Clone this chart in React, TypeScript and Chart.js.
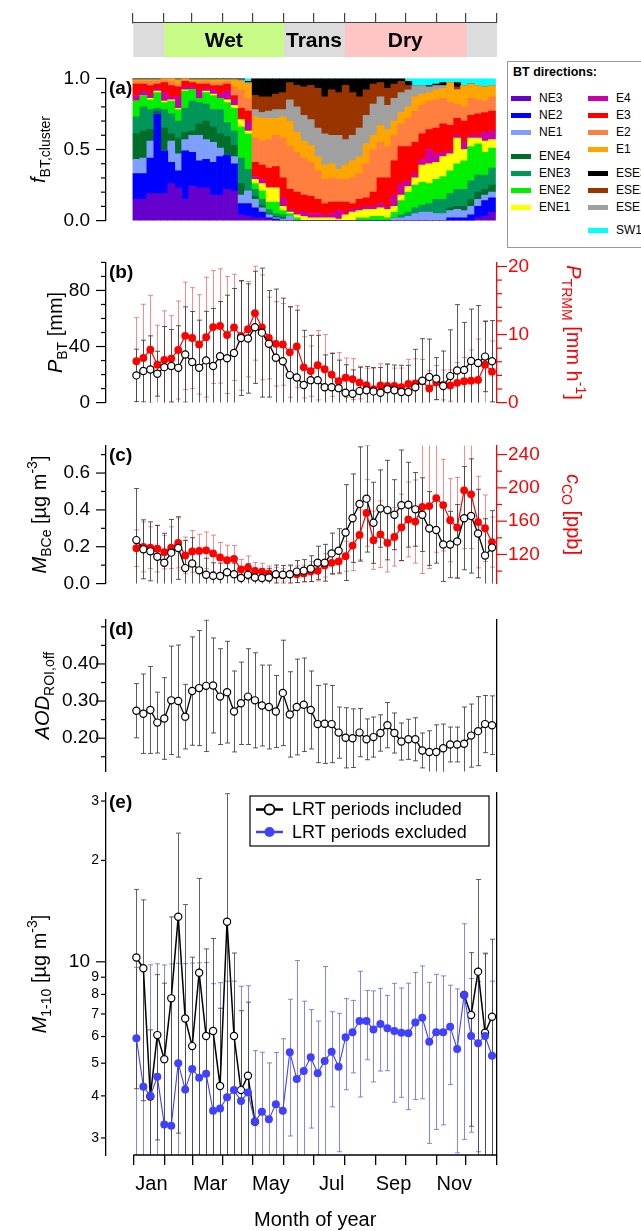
import { useEffect, useRef } from "react";
import Chart from "chart.js/auto";

const FONT = "'Liberation Sans', Arial, Helvetica, sans-serif";
Chart.defaults.font.family = FONT;
Chart.defaults.color = "#000";

// ---------- shared x axis (day of year) ----------
const weekDays = [
  3, 10, 17, 24, 31, 38, 45, 52, 59, 66, 73, 80, 87, 94, 101, 108, 115, 122, 129, 136,
  143, 150, 157, 164, 171, 178, 185, 192, 199, 206, 213, 220, 227, 234, 241, 248, 255,
  262, 269, 276, 283, 290, 297, 304, 311, 318, 325, 332, 339, 346, 353, 360,
];
const monthTicks = [0, 31, 59, 90, 120, 151, 181, 212, 243, 273, 304, 334, 365];
const monthLabels = ["Jan", "", "Mar", "", "May", "", "Jul", "", "Sep", "", "Nov", "", ""];

const seasonNames = ["", "Wet", "Trans", "Dry", ""];
const seasonStart = [0, 31, 151, 212, 334];
const seasonEnd = [31, 151, 212, 334, 365];
const seasonColors = ["#dcdcdc", "#c8fc86", "#dcdcdc", "#ffc4c4", "#dcdcdc"];

// ---------- (a) back-trajectory cluster fractions, bottom to top ----------
const fNE3 = [.15,.15,.19,.19,.19,.26,.23,.15,.24,.23,.23,.18,.18,.22,.21,.04,.03,.02,.02,.01,0,0,0,0,0,0,0,0,0,0,0,0,0,0,0,0,0,0,0,0,0,0,0,0,0,0,0,0,0,.02,.03,.06];
const fNE2 = [.18,.18,.25,.56,.30,.15,.12,.34,.24,.19,.20,.23,.27,.24,.19,.08,.09,.07,.04,.01,.01,0,0,0,0,0,0,0,0,0,0,0,0,0,0,0,0,0,0,0,0,0,0,0,0,.02,.02,.02,.04,.08,.11,.10];
const fNE1 = [.10,.11,.12,0,0,.15,.12,.08,.12,.18,.14,.14,.06,0,.05,.06,.09,.06,.03,.02,.01,.01,.03,0,0,0,0,0,0,0,0,0,0,0,0,0,0,.02,.02,.03,.05,.06,.06,.05,.05,.05,.06,.05,.06,.05,.04,.04];
const fENE4 = [.18,.19,.08,.02,.16,.05,.11,.05,.03,.08,.13,.11,.10,.13,.08,.08,0,.02,.02,.01,.01,.01,0,0,0,0,0,0,0,0,0,0,0,0,0,0,0,0,0,0,0,0,0,0,0,.02,.02,.03,.05,.05,.04,.05];
const fENE3 = [.12,.17,.14,.02,.13,.14,.12,.17,.21,.15,.12,.12,.17,.10,.10,.18,.15,.05,.04,.03,.02,.02,0,0,0,0,0,0,0,0,0,0,0,0,0,0,0,0,.02,.03,.04,.05,.06,.10,.10,.10,.12,.12,.13,.12,.10,.12];
const fENE2 = [.11,.08,.07,.11,.05,.09,.08,.12,.08,.03,.08,.10,.08,.14,.16,.22,.25,.04,.06,.05,.08,.03,.02,.02,0,0,0,0,0,0,0,0,.02,.02,.03,.03,.02,.04,.10,.14,.16,.16,.14,.14,.16,.16,.18,.20,.24,.22,.16,.14];
const fENE1 = [0,0,.01,.01,.01,.01,.01,.01,0,0,.01,.01,0,.02,.02,.05,.02,.03,.05,.10,.10,.03,.01,.02,.03,.02,.02,.02,.02,.01,.04,.06,.05,.06,.05,.06,.06,.04,.04,.04,.05,.12,.14,.12,.14,.12,.18,.08,.06,.04,.08,.06];
const fE4 = [.04,.03,.03,.02,.06,.02,.08,.02,.02,.05,.02,.03,.03,.06,.04,0,.07,.02,.03,.01,0,.06,.02,.02,.03,.03,.03,.02,.03,.06,.02,.02,.02,.02,.02,.03,.02,.08,.08,.04,.03,.04,.10,.06,.03,.02,.02,.06,.02,.02,.06,.06];
const fE3 = [.08,.05,.06,.03,.07,.08,.07,.04,.03,.05,.03,.03,.06,.05,.03,.08,.07,.10,.10,.13,.15,.14,.14,.14,.12,.12,.10,.08,.08,.06,.07,.04,.06,.06,.10,.18,.20,.24,.26,.24,.22,.18,.14,.18,.20,.18,.12,.14,.14,.15,.14,.14];
const fE2 = [.02,.02,.03,.02,.02,.03,.02,.01,.01,.01,.02,.02,.02,.02,.06,.13,.09,.17,.17,.20,.22,.28,.30,.28,.26,.24,.20,.17,.17,.16,.16,.18,.18,.24,.30,.25,.22,.18,.16,.20,.22,.20,.20,.20,.18,.16,.10,.10,.12,.10,.08,.10];
const fE1 = [.01,.01,.01,.01,.01,.02,.03,.01,.01,.02,.01,.02,.02,.01,.05,.06,.10,.15,.16,.15,.12,.15,.18,.14,.12,.12,.10,.10,.10,.07,.10,.12,.12,.14,.10,.12,.12,.10,.08,.08,.10,.08,.06,.07,.07,.14,.10,.15,.10,.10,.10,.08];
const fESE1 = [0,0,0,0,0,0,0,0,0,0,0,0,0,0,0,.01,.01,.05,.04,.05,.06,.05,.15,.18,.18,.18,.20,.22,.20,.24,.18,.18,.20,.20,.22,.20,.17,.16,.14,.12,.08,.06,.04,.03,.02,0,0,0,0,0,0,0];
const fESE2 = [0,0,0,0,0,0,0,0,0,0,0,0,0,0,0,0,0,.10,.11,.10,.11,.12,.12,.15,.20,.24,.28,.26,.32,.30,.38,.30,.22,.18,.14,.10,.12,.10,.08,.03,0,0,0,0,0,0,.02,0,0,0,0,0];
const fESE3 = [.01,.01,.01,.01,0,0,.01,0,.01,.01,.01,.01,.01,.01,.01,.01,.01,.12,.13,.13,.11,.10,.03,.05,.06,.05,.07,.13,.08,.10,.05,.10,.13,.08,.04,.03,.07,.04,.02,.03,0,0,.01,.01,.02,0,.03,0,0,0,0,0];
const fSW1 = [0,0,0,0,0,0,0,0,0,0,0,0,0,0,0,0,.02,0,0,0,0,0,0,0,0,0,0,0,0,0,0,0,0,0,0,0,0,0,0,.02,.05,.05,.05,.04,.03,.03,.03,.05,.04,.05,.06,.05];

const clusterNames = ["NE3", "NE2", "NE1", "ENE4", "ENE3", "ENE2", "ENE1", "E4", "E3", "E2", "E1", "ESE1", "ESE2", "ESE3", "SW1"];
const clusterColors = ["#6600cc", "#0000ff", "#7f9fff", "#006e28", "#00965a", "#00f000", "#ffff00", "#cc00aa", "#ff0000", "#ff7f40", "#ffa500", "#a0a0a0", "#993300", "#000000", "#00ffff"];
const clusterFractions = [fNE3, fNE2, fNE1, fENE4, fENE3, fENE2, fENE1, fE4, fE3, fE2, fE1, fESE1, fESE2, fESE3, fSW1];

// ---------- (b) precipitation ----------
const pBT = [19.4,22.5,23.6,20.6,25.3,26.1,24.8,34.3,29.0,24.8,30.1,26.1,33.1,31.6,35.4,46.1,45.7,53.7,49.9,41.9,32.0,29.5,19.6,17.9,12.6,16.0,16.0,11.0,11.0,10.3,7.0,6.3,8.2,8.8,8.0,7.0,9.5,8.8,7.6,7.6,11.0,15.6,18.3,17.1,11.8,18.9,22.9,23.2,29.7,28.2,32.8,29.5];
const pBTsd = [18.7,22,24,16,29,26,30,34,36,34,35,41,39,45,46,41,39,40,46,38,49,45,49,48,39,32,32,23,24,20,20,17,17,17,17,18,18,18,19,19,27,30,27,15,25,33,47,34,37,41,25,29];
const pTRMM = [6.08,6.55,7.77,5.57,6.28,6.47,7.73,9.81,9.49,8.55,9.61,11.1,11.26,9.93,11.06,9.81,10.79,13.14,11.06,9.49,8.63,8.55,7.38,8.24,5.18,4.63,5.49,4.9,4.12,3.14,3.65,3.46,2.94,2.55,1.96,2.51,2.47,2.47,2.28,2.75,2.83,3.14,2.08,2.94,2.59,2.51,2.9,3.14,3.22,3.33,5.57,4.55];
const pTRMMsd = [6.4,7.9,8.0,5.8,7.2,6.3,7.2,7.9,7.4,7.3,8.8,8.3,8.4,8.6,7.8,8.0,7.0,6.9,7.7,6.0,6.2,6.0,6.6,6.0,4.5,3.7,5.1,5.1,3.2,4.2,2.9,3.0,2.4,2.5,3.1,3.2,3.2,2.6,2.8,3.6,3.6,3.2,2.6,2.5,2.2,2.3,3.0,3.5,4.5,6.0,6.5,4.5];

// ---------- (c) black carbon and CO ----------
const mBCe = [.236,.186,.175,.146,.113,.168,.193,.084,.109,.072,.048,.043,.041,.062,.051,.030,.048,.033,.030,.033,.051,.048,.051,.065,.070,.081,.113,.113,.164,.178,.277,.355,.432,.461,.330,.407,.399,.374,.425,.428,.403,.374,.299,.291,.212,.212,.229,.355,.367,.272,.152,.196];
const mBCesd = [.28,.16,.16,.17,.16,.18,.17,.15,.14,.11,.09,.07,.07,.07,.06,.05,.06,.05,.05,.05,.05,.05,.05,.06,.06,.07,.09,.10,.11,.12,.26,.24,.31,.29,.22,.21,.27,.19,.30,.23,.20,.20,.20,.18,.20,.18,.20,.28,.31,.24,.20,.20];
const cCO = [127.5,129.1,128.2,126.9,122.7,128.2,133.9,118.9,123.7,124.3,125.0,121.2,116.4,113.1,114.7,102.0,104.2,100.4,99.4,97.2,95.6,94.9,96.2,96.2,97.2,99.4,100.4,106.8,110.0,111.6,117.9,130.7,143.5,169.8,137.1,144.2,133.9,141.0,152.5,162.1,159.5,177.1,178.1,187.7,179.3,161.1,152.5,197.0,192.2,158.9,151.5,134.9];
const cCOsd = [22,30,25,28,20,25,30,22,25,20,22,22,18,18,16,12,14,10,10,9,9,8,10,10,10,12,12,14,14,15,18,30,30,40,35,40,35,35,40,45,50,80,75,65,55,50,60,70,65,55,40,30];

// ---------- (d) aerosol optical depth ----------
const aod = [.274,.266,.276,.242,.253,.302,.300,.258,.327,.335,.341,.342,.312,.324,.272,.294,.312,.302,.288,.284,.272,.322,.264,.284,.290,.276,.238,.239,.238,.215,.201,.200,.215,.197,.203,.214,.235,.214,.191,.197,.197,.167,.163,.163,.173,.183,.183,.185,.207,.219,.238,.235];
const aodsd = [.073,.107,.117,.082,.110,.146,.151,.087,.146,.155,.177,.128,.129,.137,.109,.111,.129,.128,.109,.113,.097,.142,.115,.129,.126,.105,.104,.107,.104,.069,.081,.079,.065,.055,.054,.049,.061,.054,.050,.054,.058,.047,.057,.073,.065,.047,.047,.099,.085,.093,.077,.079];

// ---------- (e) coarse mass ----------
const m110excl = [5.93,4.26,4.0,4.56,3.29,3.26,5.0,4.18,4.81,4.53,4.65,3.61,3.67,3.96,4.16,3.86,4.09,3.35,3.59,3.41,3.78,3.61,5.39,4.49,4.74,5.21,4.67,5.08,5.41,4.88,5.97,6.18,6.67,6.67,6.30,6.54,6.35,6.23,6.16,6.14,6.60,6.82,5.79,6.18,6.18,6.42,5.51,7.97,6.02,5.73,6.02,5.26];
const m110exclSd = [3.7,5.5,5.8,5.3,6.5,6.6,4.9,5.7,5.1,5.4,5.3,5.0,5.0,4.8,4.6,4.6,4.4,2.1,1.8,1.6,1.6,2.3,2.35,5.6,2.9,2.0,2.0,4.6,1.7,2.15,1.8,1.5,2.7,1.55,1.9,1.8,1.6,2.4,2.2,2.5,2.7,2.9,2.9,3.0,2.9,2.1,2.8,5.0,2.9,3.0,4.6,3.5];
const m110incl = [10.3,9.57,3.98,6.06,5.14,7.79,13.6,6.79,5.62,9.28,6.02,6.23,4.28,13.15,6.02,4.16,4.59,3.35,null,null,null,null,null,null,null,null,null,null,null,null,null,null,null,null,null,null,null,null,null,null,null,null,null,null,null,null,null,7.97,6.95,9.35,6.16,6.87];
const m110inclSd = [6.1,5.7,2.3,3.1,3.5,5.8,10.5,8.0,4.7,8.4,4.9,5.5,3.0,18.4,4.6,3.0,3.0,null,null,null,null,null,null,null,null,null,null,null,null,null,null,null,null,null,null,null,null,null,null,null,null,null,null,null,null,null,null,null,3.7,8.2,4.4,4.8];

// ---------- axis ticks ----------
const aMajor = [0, 0.5, 1];
const aMinor = [0.1, 0.2, 0.3, 0.4, 0.6, 0.7, 0.8, 0.9];
const bMajor = [0, 40, 80];
const bMinor = [10, 20, 30, 50, 60, 70, 90, 100];
const bRightMajor = [0, 10, 20];
const bRightMinor = [2, 4, 6, 8, 12, 14, 16, 18];
const cMajor = [0, 0.2, 0.4, 0.6];
const cMinor = [0.1, 0.3, 0.5, 0.7];
const cRightMajor = [120, 160, 200, 240];
const cRightMinor = [100, 140, 180, 220];
const dMajor = [0.2, 0.3, 0.4];
const dMinor = [0.15, 0.25, 0.35, 0.45, 0.5];
const eMajor = [10];
const eMinor = [3, 4, 5, 6, 7, 8, 9, 20, 30];
const eLabelValues = [3, 4, 5, 6, 7, 8, 9, 10, 20, 30];
const eLabelTexts = ["3", "4", "5", "6", "7", "8", "9", "10", "2", "3"];

// ---------- drawing helpers ----------
type Seg = { t: string; s?: "sub" | "sup"; i?: boolean };

function drawRich(ctx: CanvasRenderingContext2D, segs: Seg[], x: number, y: number, rot: number, color: string) {
  const font = (g: Seg) => `${g.i ? "italic " : ""}${g.s ? 14 : 20}px ${FONT}`;
  ctx.save();
  ctx.translate(x, y);
  ctx.rotate(rot);
  ctx.fillStyle = color;
  ctx.textAlign = "left";
  ctx.textBaseline = "alphabetic";
  let w = 0;
  segs.forEach((g) => {
    ctx.font = font(g);
    w += ctx.measureText(g.t).width;
  });
  let cx = -w / 2;
  segs.forEach((g) => {
    ctx.font = font(g);
    const dy = g.s === "sub" ? 5 : g.s === "sup" ? -9 : 0;
    ctx.fillText(g.t, cx, dy);
    cx += ctx.measureText(g.t).width;
  });
  ctx.restore();
}

const axisTitles = (specs: { segs: Seg[]; x: number; rot: number; color: string }[]) => ({
  id: "axisTitles",
  afterDraw(chart: any) {
    const a = chart.chartArea;
    const cy = (a.top + a.bottom) / 2;
    specs.forEach((s) => drawRich(chart.ctx, s.segs, s.x, cy, s.rot, s.color));
  },
});

const panelTag = (text: string) => ({
  id: "panelTag",
  afterDraw(chart: any) {
    const { ctx, chartArea: a } = chart;
    ctx.save();
    ctx.font = `bold 19px ${FONT}`;
    ctx.fillStyle = "#000";
    ctx.textAlign = "left";
    ctx.textBaseline = "middle";
    ctx.fillText(text, 109, a.top + 10);
    ctx.restore();
  },
});

type TickSpec = {
  id: string;
  side: "left" | "right";
  major: number[];
  minor: number[];
  color: string;
  labels?: { v: number; text: string; size: number; gap: number }[];
};

const tickMarks = (specs: TickSpec[]) => ({
  id: "tickMarks",
  afterDraw(chart: any) {
    const { ctx, chartArea: a } = chart;
    specs.forEach((s) => {
      const sc = chart.scales[s.id];
      const x0 = s.side === "left" ? a.left : a.right;
      const dir = s.side === "left" ? -1 : 1;
      ctx.save();
      ctx.strokeStyle = s.color;
      ctx.fillStyle = s.color;
      ctx.lineWidth = 1.2;
      const mark = (v: number, len: number) => {
        if (v < sc.min - 1e-9 || v > sc.max + 1e-9) return;
        const y = sc.getPixelForValue(v);
        ctx.beginPath();
        ctx.moveTo(x0, y);
        ctx.lineTo(x0 + dir * len, y);
        ctx.stroke();
      };
      s.major.forEach((v) => mark(v, 10));
      s.minor.forEach((v) => mark(v, 5));
      (s.labels || []).forEach((l) => {
        ctx.font = `${l.size}px ${FONT}`;
        ctx.textAlign = "right";
        ctx.textBaseline = "middle";
        ctx.fillText(l.text, x0 - l.gap, sc.getPixelForValue(l.v));
      });
      ctx.restore();
    });
  },
});

type ErrSpec = { ds: number; values: (number | null)[]; err: (number | null)[]; color: string };

const errorBars = (specs: ErrSpec[]) => ({
  id: "errorBars",
  beforeDatasetsDraw(chart: any) {
    const { ctx, chartArea: a } = chart;
    ctx.save();
    ctx.beginPath();
    ctx.rect(a.left, a.top, a.right - a.left, a.bottom - a.top);
    ctx.clip();
    specs.forEach((s) => {
      const meta = chart.getDatasetMeta(s.ds);
      const ys = chart.scales[meta.yAxisID];
      ctx.strokeStyle = s.color;
      ctx.lineWidth = 1;
      meta.data.forEach((pt: any, i: number) => {
        const v = s.values[i];
        const e = s.err[i];
        if (v == null || e == null) return;
        const x = Math.round(pt.x) + 0.5;
        const yHi = ys.getPixelForValue(v + e);
        const lo = v - e;
        const yLo = lo > 0 || ys.type !== "logarithmic" ? ys.getPixelForValue(lo) : a.bottom + 20;
        ctx.beginPath();
        ctx.moveTo(x, yHi);
        ctx.lineTo(x, yLo);
        ctx.moveTo(x - 2.5, yHi);
        ctx.lineTo(x + 2.5, yHi);
        ctx.moveTo(x - 2.5, yLo);
        ctx.lineTo(x + 2.5, yLo);
        ctx.stroke();
      });
    });
    ctx.restore();
  },
});

const seasonText = {
  id: "seasonText",
  afterDatasetsDraw(chart: any) {
    const { ctx } = chart;
    ctx.save();
    ctx.font = `bold 21px ${FONT}`;
    ctx.fillStyle = "#000";
    ctx.textAlign = "center";
    ctx.textBaseline = "middle";
    chart.data.datasets.forEach((ds: any, i: number) => {
      if (!ds.label) return;
      const el = chart.getDatasetMeta(i).data[0];
      ctx.fillText(ds.label, (el.x + el.base) / 2, el.y + 1);
    });
    ctx.restore();
  },
};

const monthAxis = {
  id: "monthAxis",
  afterDraw(chart: any) {
    const { ctx, chartArea: a, scales } = chart;
    const x0 = scales.x.getPixelForValue(0);
    const x1 = scales.x.getPixelForValue(365);
    ctx.save();
    ctx.strokeStyle = "#000";
    ctx.lineWidth = 1.5;
    ctx.beginPath();
    ctx.moveTo(x0, a.bottom);
    ctx.lineTo(x1, a.bottom);
    ctx.stroke();
    ctx.font = `20px ${FONT}`;
    ctx.fillStyle = "#000";
    ctx.textAlign = "center";
    ctx.textBaseline = "middle";
    ctx.fillText("Month of year", (x0 + x1) / 2, a.bottom + 65);
    ctx.restore();
  },
};

const massLegend = {
  id: "massLegend",
  afterDraw(chart: any) {
    const { ctx, chartArea: a } = chart;
    const x0 = a.left + 144;
    const y0 = a.top + 3;
    ctx.save();
    ctx.fillStyle = "#fff";
    ctx.fillRect(x0, y0, 239, 50);
    ctx.strokeStyle = "#000";
    ctx.lineWidth = 1.2;
    ctx.strokeRect(x0, y0, 239, 50);
    const rows = [
      { ds: chart.data.datasets[1], y: y0 + 13.5, fill: "#fff" },
      { ds: chart.data.datasets[0], y: y0 + 36, fill: "#4040ff" },
    ];
    rows.forEach((r) => {
      ctx.strokeStyle = r.ds.borderColor;
      ctx.lineWidth = 2.5;
      ctx.beginPath();
      ctx.moveTo(x0 + 6, r.y);
      ctx.lineTo(x0 + 33, r.y);
      ctx.stroke();
      ctx.beginPath();
      ctx.arc(x0 + 19.5, r.y, 5, 0, Math.PI * 2);
      ctx.fillStyle = r.fill;
      ctx.fill();
      if (r.fill === "#fff") {
        ctx.lineWidth = 1.8;
        ctx.stroke();
      }
      ctx.fillStyle = "#000";
      ctx.font = `18px ${FONT}`;
      ctx.textAlign = "left";
      ctx.textBaseline = "middle";
      ctx.fillText(r.ds.label, x0 + 42, r.y + 1);
    });
    ctx.restore();
  },
};

// ---------- config builders ----------
const base = (padding: any) => ({
  animation: false,
  responsive: true,
  maintainAspectRatio: false,
  events: [],
  layout: { padding },
  plugins: { legend: { display: false }, tooltip: { enabled: false } },
});

const hiddenX = { type: "linear", min: -27.5, max: 365, offset: false, display: false };

const leftAxis = (min: number, max: number, major: number[], fmt: (v: number) => string, pad = 16) => ({
  position: "left",
  min,
  max,
  afterFit: (s: any) => {
    s.width = 106;
  },
  afterBuildTicks: (s: any) => {
    s.ticks = major.map((v) => ({ value: v }));
  },
  ticks: { callback: (v: number) => fmt(v), font: { size: 19 }, color: "#000", padding: pad, autoSkip: false },
  grid: { display: false, drawTicks: false },
  border: { display: true, color: "#000", width: 1.3 },
});

const rightAxis = (min: number, max: number, major: number[], color: string) => ({
  position: "right",
  min,
  max,
  afterFit: (s: any) => {
    s.width = 144;
  },
  afterBuildTicks: (s: any) => {
    s.ticks = major.map((v) => ({ value: v }));
  },
  ticks: { callback: (v: number) => String(v), font: { size: 19 }, color, padding: 11, autoSkip: false },
  grid: { display: false, drawTicks: false },
  border: { display: true, color, width: 1.3 },
});

const rightFrame = {
  position: "right",
  min: 0,
  max: 1,
  afterFit: (s: any) => {
    s.width = 144;
  },
  ticks: { display: false },
  grid: { display: false, drawTicks: false },
  border: { display: true, color: "#000", width: 1.3 },
};

const points = (vals: (number | null)[]) => weekDays.map((d, i) => ({ x: d, y: vals[i] }));

const openBlack = (label: string, vals: (number | null)[], yAxisID: string) => ({
  label,
  data: points(vals),
  yAxisID,
  borderColor: "#000",
  borderWidth: 1.3,
  pointRadius: 3.6,
  pointBackgroundColor: "#fff",
  pointBorderColor: "#000",
  pointBorderWidth: 1.2,
  tension: 0,
});

const filled = (label: string, vals: number[], yAxisID: string, color: string) => ({
  label,
  data: points(vals),
  yAxisID,
  borderColor: color,
  borderWidth: 1.2,
  pointRadius: 3.9,
  pointBackgroundColor: color,
  pointBorderColor: color,
  pointBorderWidth: 0,
  tension: 0,
});

const stripConfig = () => ({
  type: "bar",
  data: {
    labels: ["season"],
    datasets: seasonNames.map((n, i) => ({
      label: n,
      data: [[seasonStart[i], seasonEnd[i]]],
      backgroundColor: seasonColors[i],
      borderWidth: 0,
      barPercentage: 1,
      categoryPercentage: 1,
      grouped: false,
    })),
  },
  options: {
    ...base({ left: 133, right: 144, top: 0, bottom: 3 }),
    indexAxis: "y",
    scales: {
      x: {
        type: "linear",
        position: "top",
        min: 0,
        max: 365,
        afterBuildTicks: (s: any) => {
          s.ticks = monthTicks.map((v) => ({ value: v }));
        },
        afterFit: (s: any) => {
          s.height = 23;
        },
        ticks: { callback: () => "", autoSkip: false },
        grid: { drawOnChartArea: false, drawTicks: true, tickLength: 10, color: "#444", lineWidth: 1.2 },
        border: { display: true, color: "#444", width: 1.5 },
      },
      y: { display: false },
    },
  },
  plugins: [seasonText],
});

const clusterConfig = () => ({
  type: "bar",
  data: {
    datasets: clusterNames.map((n, k) => ({
      label: n,
      data: points(clusterFractions[k]),
      backgroundColor: clusterColors[k],
      borderWidth: 0,
      barPercentage: 1,
      categoryPercentage: 1,
    })),
  },
  options: {
    ...base({ top: 10, bottom: 10, right: 144 }),
    scales: {
      x: { ...hiddenX, stacked: true, grid: { offset: false } },
      y: { ...leftAxis(0, 1, aMajor, (v) => v.toFixed(1)), stacked: true },
    },
  },
  plugins: [
    tickMarks([{ id: "y", side: "left", major: aMajor, minor: aMinor, color: "#000" }]),
    axisTitles([{ segs: [{ t: "f", i: true }, { t: "BT,cluster", s: "sub" }], x: 45, rot: -Math.PI / 2, color: "#000" }]),
    panelTag("(a)"),
  ],
});

const precipConfig = () => ({
  type: "line",
  data: {
    datasets: [openBlack("P_BT", pBT, "y"), filled("P_TRMM", pTRMM, "y2", "#ff0000")],
  },
  options: {
    ...base({ top: 10, bottom: 10 }),
    scales: {
      x: hiddenX,
      y: leftAxis(0, 100, bMajor, (v) => String(v)),
      y2: rightAxis(0, 20.6, bRightMajor, "#ff0000"),
    },
  },
  plugins: [
    errorBars([
      { ds: 1, values: pTRMM, err: pTRMMsd, color: "rgba(255,40,40,0.55)" },
      { ds: 0, values: pBT, err: pBTsd, color: "rgba(50,50,50,0.8)" },
    ]),
    tickMarks([
      { id: "y", side: "left", major: bMajor, minor: bMinor, color: "#000" },
      { id: "y2", side: "right", major: bRightMajor, minor: bRightMinor, color: "#ff0000" },
    ]),
    axisTitles([
      { segs: [{ t: "P", i: true }, { t: "BT", s: "sub" }, { t: " [mm]" }], x: 62, rot: -Math.PI / 2, color: "#000" },
      {
        segs: [{ t: "P", i: true }, { t: "TRMM", s: "sub" }, { t: " [mm h" }, { t: "-1", s: "sup" }, { t: "]" }],
        x: 567,
        rot: Math.PI / 2,
        color: "#ff0000",
      },
    ]),
    panelTag("(b)"),
  ],
});

const bcConfig = () => ({
  type: "line",
  data: {
    datasets: [openBlack("M_BCe", mBCe, "y"), filled("c_CO", cCO, "y2", "#ff0000")],
  },
  options: {
    ...base({ top: 10, bottom: 10 }),
    scales: {
      x: hiddenX,
      y: leftAxis(0, 0.75, cMajor, (v) => v.toFixed(1)),
      y2: rightAxis(85, 251, cRightMajor, "#ff0000"),
    },
  },
  plugins: [
    errorBars([
      { ds: 1, values: cCO, err: cCOsd, color: "rgba(255,40,40,0.55)" },
      { ds: 0, values: mBCe, err: mBCesd, color: "rgba(50,50,50,0.8)" },
    ]),
    tickMarks([
      { id: "y", side: "left", major: cMajor, minor: cMinor, color: "#000" },
      { id: "y2", side: "right", major: cRightMajor, minor: cRightMinor, color: "#ff0000" },
    ]),
    axisTitles([
      {
        segs: [{ t: "M", i: true }, { t: "BCe", s: "sub" }, { t: " [µg m" }, { t: "-3", s: "sup" }, { t: "]" }],
        x: 46,
        rot: -Math.PI / 2,
        color: "#000",
      },
      { segs: [{ t: "c", i: true }, { t: "CO", s: "sub" }, { t: " [ppb]" }], x: 567, rot: Math.PI / 2, color: "#ff0000" },
    ]),
    panelTag("(c)"),
  ],
});

const aodConfig = () => ({
  type: "line",
  data: { datasets: [openBlack("AOD", aod, "y")] },
  options: {
    ...base({ top: 10, bottom: 10 }),
    scales: {
      x: hiddenX,
      y: leftAxis(0.11, 0.52, dMajor, (v) => v.toFixed(2), 7),
      y2: rightFrame,
    },
  },
  plugins: [
    errorBars([{ ds: 0, values: aod, err: aodsd, color: "rgba(50,50,50,0.8)" }]),
    tickMarks([{ id: "y", side: "left", major: dMajor, minor: dMinor, color: "#000" }]),
    axisTitles([{ segs: [{ t: "AOD", i: true }, { t: "ROI,off", s: "sub" }], x: 49, rot: -Math.PI / 2, color: "#000" }]),
    panelTag("(d)"),
  ],
});

const massConfig = () => ({
  type: "line",
  data: {
    datasets: [
      { ...filled("LRT periods excluded", m110excl, "y", "#4040ff"), borderWidth: 1.1, pointRadius: 4 },
      { ...openBlack("LRT periods included", m110incl, "y"), borderWidth: 1.5 },
    ],
  },
  options: {
    ...base({ top: 10, bottom: 0 }),
    spanGaps: false,
    scales: {
      x: {
        type: "linear",
        position: "bottom",
        min: -27.5,
        max: 365,
        offset: false,
        afterBuildTicks: (s: any) => {
          s.ticks = monthTicks.map((v) => ({ value: v }));
        },
        afterFit: (s: any) => {
          s.height = 76;
        },
        ticks: {
          autoSkip: false,
          maxRotation: 0,
          minRotation: 0,
          callback: (v: number) => monthLabels[monthTicks.indexOf(v)] ?? "",
          font: { size: 20 },
          color: "#000",
          padding: 7,
          labelOffset: 18,
        },
        grid: { display: true, drawOnChartArea: false, drawTicks: true, tickLength: 10, color: "#000", lineWidth: 1.3 },
        border: { display: false },
      },
      y: {
        type: "logarithmic",
        position: "left",
        min: 2.67,
        max: 31.7,
        afterFit: (s: any) => {
          s.width = 106;
        },
        ticks: { display: false },
        grid: { display: false, drawTicks: false },
        border: { display: true, color: "#000", width: 1.3 },
      },
      y2: rightFrame,
    },
  },
  plugins: [
    errorBars([
      { ds: 0, values: m110excl, err: m110exclSd, color: "rgba(90,90,255,0.75)" },
      { ds: 1, values: m110incl, err: m110inclSd, color: "rgba(60,60,60,0.8)" },
    ]),
    tickMarks([
      {
        id: "y",
        side: "left",
        major: eMajor,
        minor: eMinor,
        color: "#000",
        labels: eLabelValues.map((v, i) => ({
          v,
          text: eLabelTexts[i],
          size: v === 10 ? 19 : 14,
          gap: v === 10 ? 16 : 7,
        })),
      },
    ]),
    axisTitles([
      {
        segs: [{ t: "M", i: true }, { t: "1-10", s: "sub" }, { t: " [µg m" }, { t: "-3", s: "sup" }, { t: "]" }],
        x: 46,
        rot: -Math.PI / 2,
        color: "#000",
      },
    ]),
    massLegend,
    monthAxis,
    panelTag("(e)"),
  ],
});

// ---------- components ----------
function ChartPanel({ top, height, make }: { top: number; height: number; make: () => any }) {
  const ref = useRef<HTMLCanvasElement>(null);

  useEffect(() => {
    if (!ref.current) return;
    const chart = new Chart(ref.current, make());
    return () => {
      chart.destroy();
    };
  }, []);

  return (
    <div style={{ position: "absolute", left: 0, top, width: 641, height }}>
      <canvas ref={ref} />
    </div>
  );
}

const legendRowsLeft = [36, 53, 70, 94, 111, 128, 145];
const legendRowsRight = [36, 53, 70, 87, 111, 128, 145, 168];

function ClusterLegend() {
  // right column lists the eastern clusters top-down, as in the figure
  const rightOrder = [7, 8, 9, 10, 13, 12, 11, 14];
  const item = (k: number, x: number, y: number) => (
    <div key={k} style={{ position: "absolute", left: x, top: y - 8, height: 16, display: "flex", alignItems: "center", whiteSpace: "nowrap" }}>
      <span style={{ display: "inline-block", width: 20, height: 5, background: clusterColors[k], marginRight: 8 }} />
      <span style={{ fontSize: 12 }}>{clusterNames[k]}</span>
    </div>
  );
  return (
    <div
      style={{
        position: "absolute",
        left: 507,
        top: 61,
        width: 160,
        height: 187,
        border: "1px solid #999",
        boxSizing: "border-box",
        background: "#fff",
        fontFamily: FONT,
      }}
    >
      <div style={{ position: "absolute", left: 5, top: 3, fontWeight: "bold", fontSize: 12.5 }}>BT directions:</div>
      {legendRowsLeft.map((y, i) => item(i, 3, y))}
      {legendRowsRight.map((y, i) => item(rightOrder[i], 80, y))}
    </div>
  );
}

export default function App() {
  useEffect(() => {
    document.body.style.margin = "0";
  }, []);

  return (
    <div
      style={{
        position: "absolute",
        left: 0,
        top: 0,
        width: 641,
        height: 1231,
        overflow: "hidden",
        background: "#fff",
        fontFamily: FONT,
      }}
    >
      <ChartPanel top={0} height={60} make={stripConfig} />
      <ChartPanel top={51} height={197} make={clusterConfig} />
      <ClusterLegend />
      <ChartPanel top={235} height={195} make={precipConfig} />
      <ChartPanel top={418} height={193} make={bcConfig} />
      <ChartPanel top={601} height={189} make={aodConfig} />
      <ChartPanel top={783} height={448} make={massConfig} />
    </div>
  );
}
